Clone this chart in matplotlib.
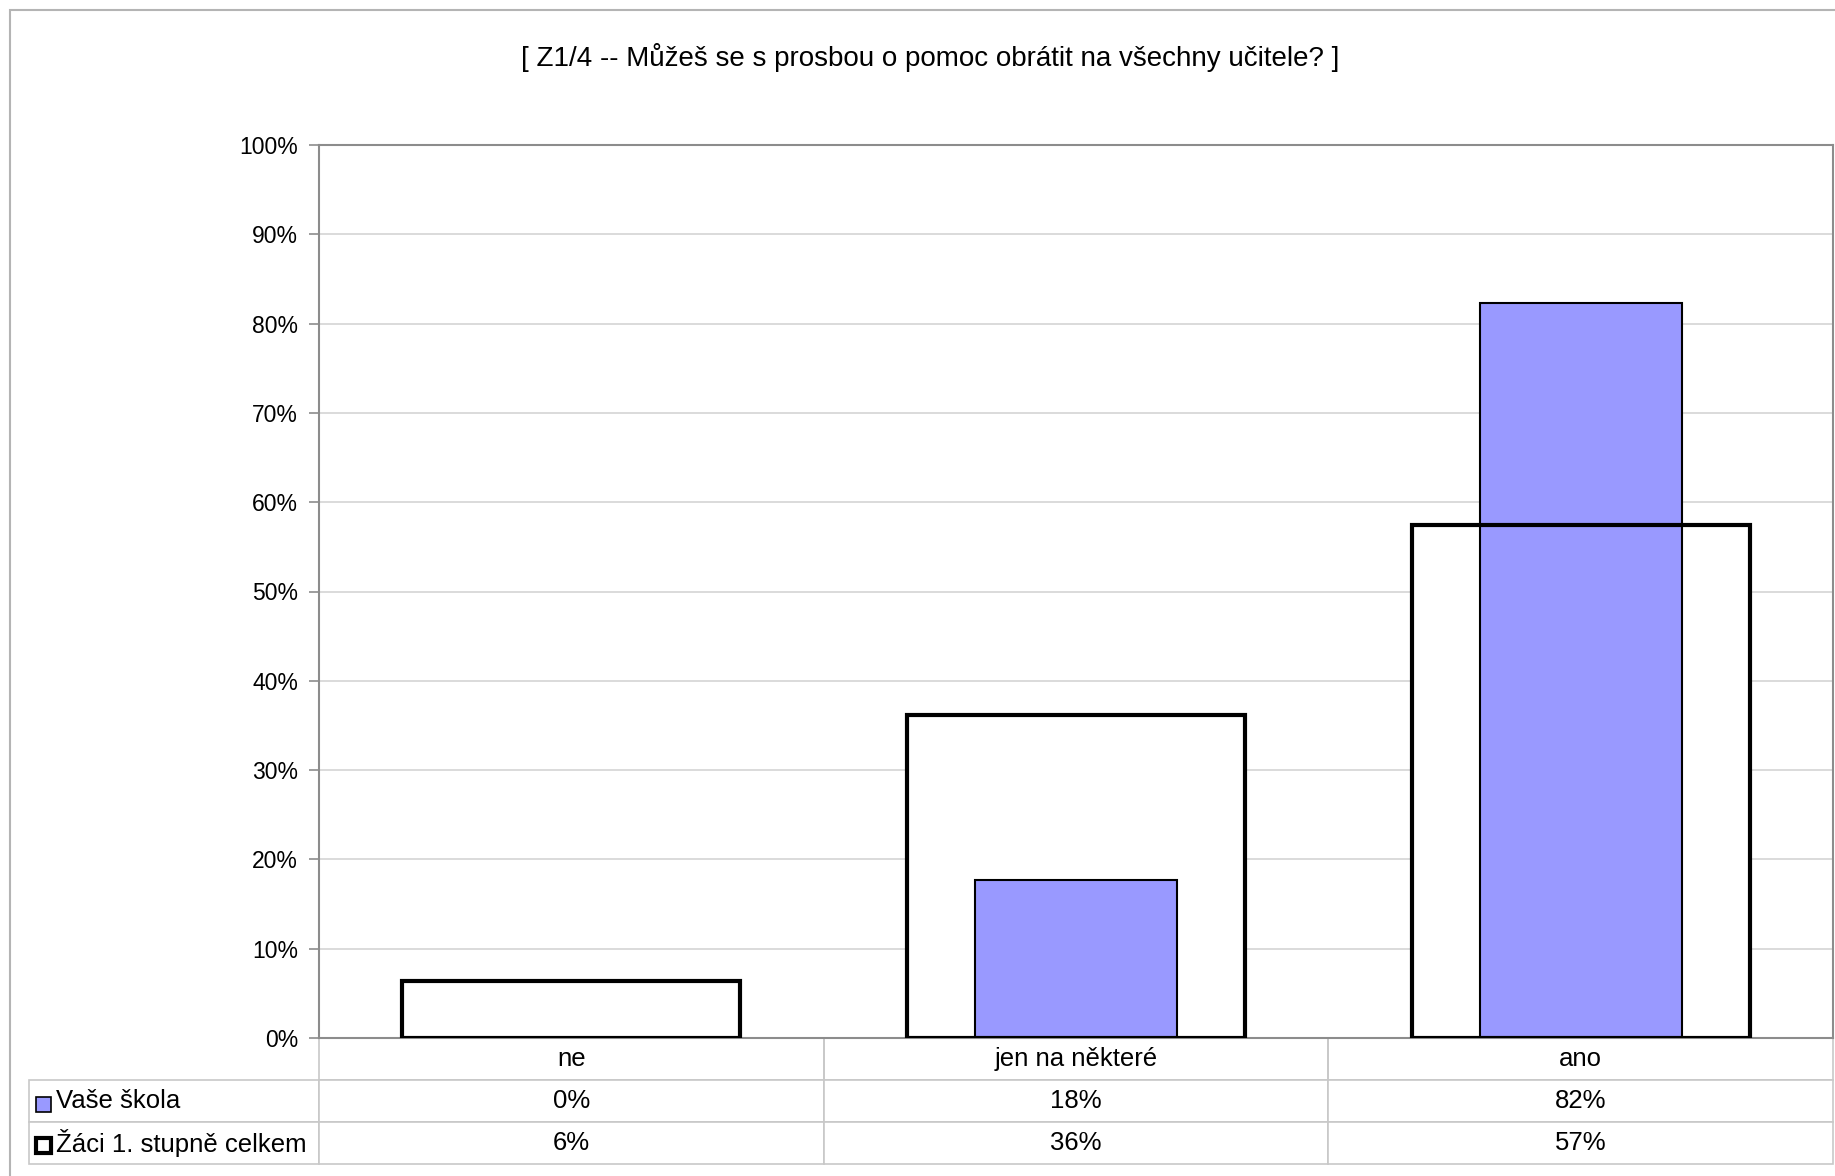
import numpy as np
import matplotlib
matplotlib.use('Agg')
from matplotlib import pyplot as plt
from matplotlib.patches import Rectangle

plt.rcParams['font.family'] = ['Liberation Sans', 'DejaVu Sans']

title = '[ Z1/4 -- Můžeš se s prosbou o pomoc obrátit na všechny učitele? ]'
categories = ['ne', 'jen na některé', 'ano']
series_names = ['Vaše škola', 'Žáci 1. stupně celkem']
skola = [0.0, 17.7, 82.3]        # [%]
celkem = [6.4, 36.2, 57.4]       # [%]
yticks = [0, 10, 20, 30, 40, 50, 60, 70, 80, 90, 100]
ytick_labels = ['%d%%' % t for t in yticks]

blue = '#9999ff'
grid_col = '#d4d4d4'
frame_col = '#8c8c8c'

fig = plt.figure(figsize=(18.35, 11.76), dpi=100)
ax = fig.add_axes([319/1835, 1 - 1038/1176, 1514/1835, 893/1176])

x = np.arange(len(categories))
# white bars: fill behind, outline drawn on top of the blue ones
ax.bar(x, celkem, width=0.67, color='white', edgecolor='none', zorder=1)
ax.bar(x, skola, width=0.4, color=blue, edgecolor='black', linewidth=1.5, zorder=3)
ax.bar(x, celkem, width=0.67, fill=False, edgecolor='black', linewidth=3, zorder=4)

ax.set_xlim(-0.5, len(categories) - 0.5)
ax.set_ylim(0, 100)
ax.set_yticks(yticks)
ax.set_yticklabels(ytick_labels, fontsize=16.5)
ax.set_xticks([])
ax.tick_params(axis='y', direction='out', length=7, width=1.2, color=frame_col, pad=8)
ax.yaxis.grid(True, color=grid_col, linewidth=1.2, zorder=0)
ax.set_axisbelow(True)
for s in ax.spines.values():
    s.set_color(frame_col)
    s.set_linewidth(1.5)

# data table under the chart
cell_text = [[series_names[0]] + ['%.0f%%' % v for v in skola],
             [series_names[1]] + ['%.0f%%' % v for v in celkem]]
lab_w = 290 / 1514
tbl = ax.table(cellText=cell_text, colLabels=[''] + categories,
               colWidths=[lab_w] + [1/3]*3, cellLoc='center',
               bbox=[-lab_w, -126/893, 1 + lab_w, 126/893])
tbl.auto_set_font_size(False)
tbl.set_fontsize(18.5)
for (r, c), cell in tbl.get_celld().items():
    cell.set_edgecolor('#c8c8c8')
    cell.set_linewidth(1.2)
    if r == 0 and c == 0:
        cell.visible_edges = ''
    elif r == 0:
        cell.visible_edges = 'LRB'
    if c == 0 and r > 0:
        cell.get_text().set_ha('left')
        cell.PAD = 0.093
for r, (fc, lw) in enumerate([(blue, 1.2), ('white', 3)]):
    yc = 1 - (1104 + r*41) / 1176
    fig.add_artist(Rectangle((36/1835, yc - 7.5/1176), 15/1835, 15/1176,
                             facecolor=fc, edgecolor='black', linewidth=lw,
                             transform=fig.transFigure))

fig.text(930/1835, 1 - 57/1176, title, ha='center', va='center', fontsize=20)

# chart area border
fig.add_artist(Rectangle((10/1835, -0.05), 1.1, 1.05 - 10/1176, fill=False,
                         edgecolor='#b4b4b4', linewidth=1.5, transform=fig.transFigure))

plt.savefig('out.png', dpi=100)
